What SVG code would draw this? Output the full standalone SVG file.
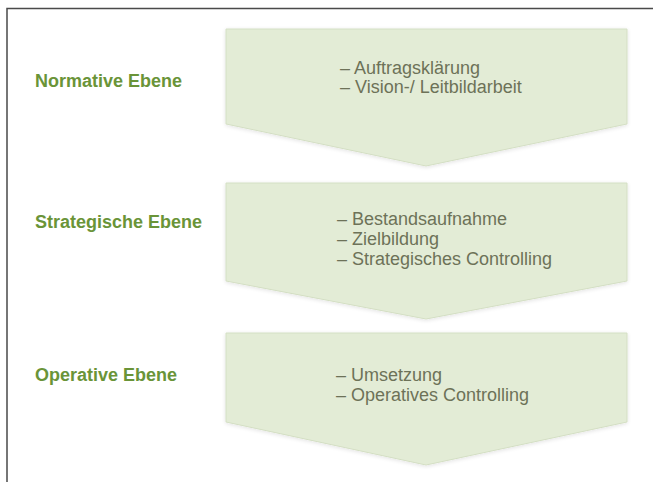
<svg xmlns="http://www.w3.org/2000/svg" width="653" height="482" viewBox="0 0 653 482">
<defs>
<filter id="soft" x="-5%" y="-5%" width="110%" height="115%">
<feGaussianBlur in="SourceAlpha" stdDeviation="2"/>
<feOffset dx="0" dy="1" result="b"/>
<feComponentTransfer><feFuncA type="linear" slope="0.12"/></feComponentTransfer>
<feMerge><feMergeNode/><feMergeNode in="SourceGraphic"/></feMerge>
</filter>
</defs>
<style>
.frame{stroke:#4a4a4a;stroke-width:1.5;fill:none}
.chev{fill:#e3ecd6;stroke:#d4dfc4;stroke-width:1;filter:url(#soft)}
.lbl{font-family:"Liberation Sans",Arial,sans-serif;font-weight:bold;font-size:18px;fill:#6a9438}
.item{font-family:"Liberation Sans",Arial,sans-serif;font-size:18px;fill:#6d7258}
</style>
<rect width="653" height="482" fill="#ffffff"/>
<g id="frame">
<path class="frame" d="M7,482 V8.5 H653"/>
</g>
<g id="connectors"></g>
<g id="normative">
<polygon class="chev" points="226,29 627,29 627,124 426,166 226,124"/>
<text class="lbl" x="35" y="87">Normative Ebene</text>
<text class="item" x="340" y="74">– Auftragsklärung</text>
<text class="item" x="340" y="93">– Vision-/ Leitbildarbeit</text>
</g>
<g id="strategische">
<polygon class="chev" points="226,183 627,183 627,281 426,319 226,281"/>
<text class="lbl" x="35" y="228">Strategische Ebene</text>
<text class="item" x="337" y="225">– Bestandsaufnahme</text>
<text class="item" x="337" y="245">– Zielbildung</text>
<text class="item" x="337" y="265">– Strategisches Controlling</text>
</g>
<g id="operative">
<polygon class="chev" points="226,333 627,333 627,422 426,465 226,422"/>
<text class="lbl" x="35" y="381">Operative Ebene</text>
<text class="item" x="336" y="381">– Umsetzung</text>
<text class="item" x="336" y="401">– Operatives Controlling</text>
</g>
</svg>
